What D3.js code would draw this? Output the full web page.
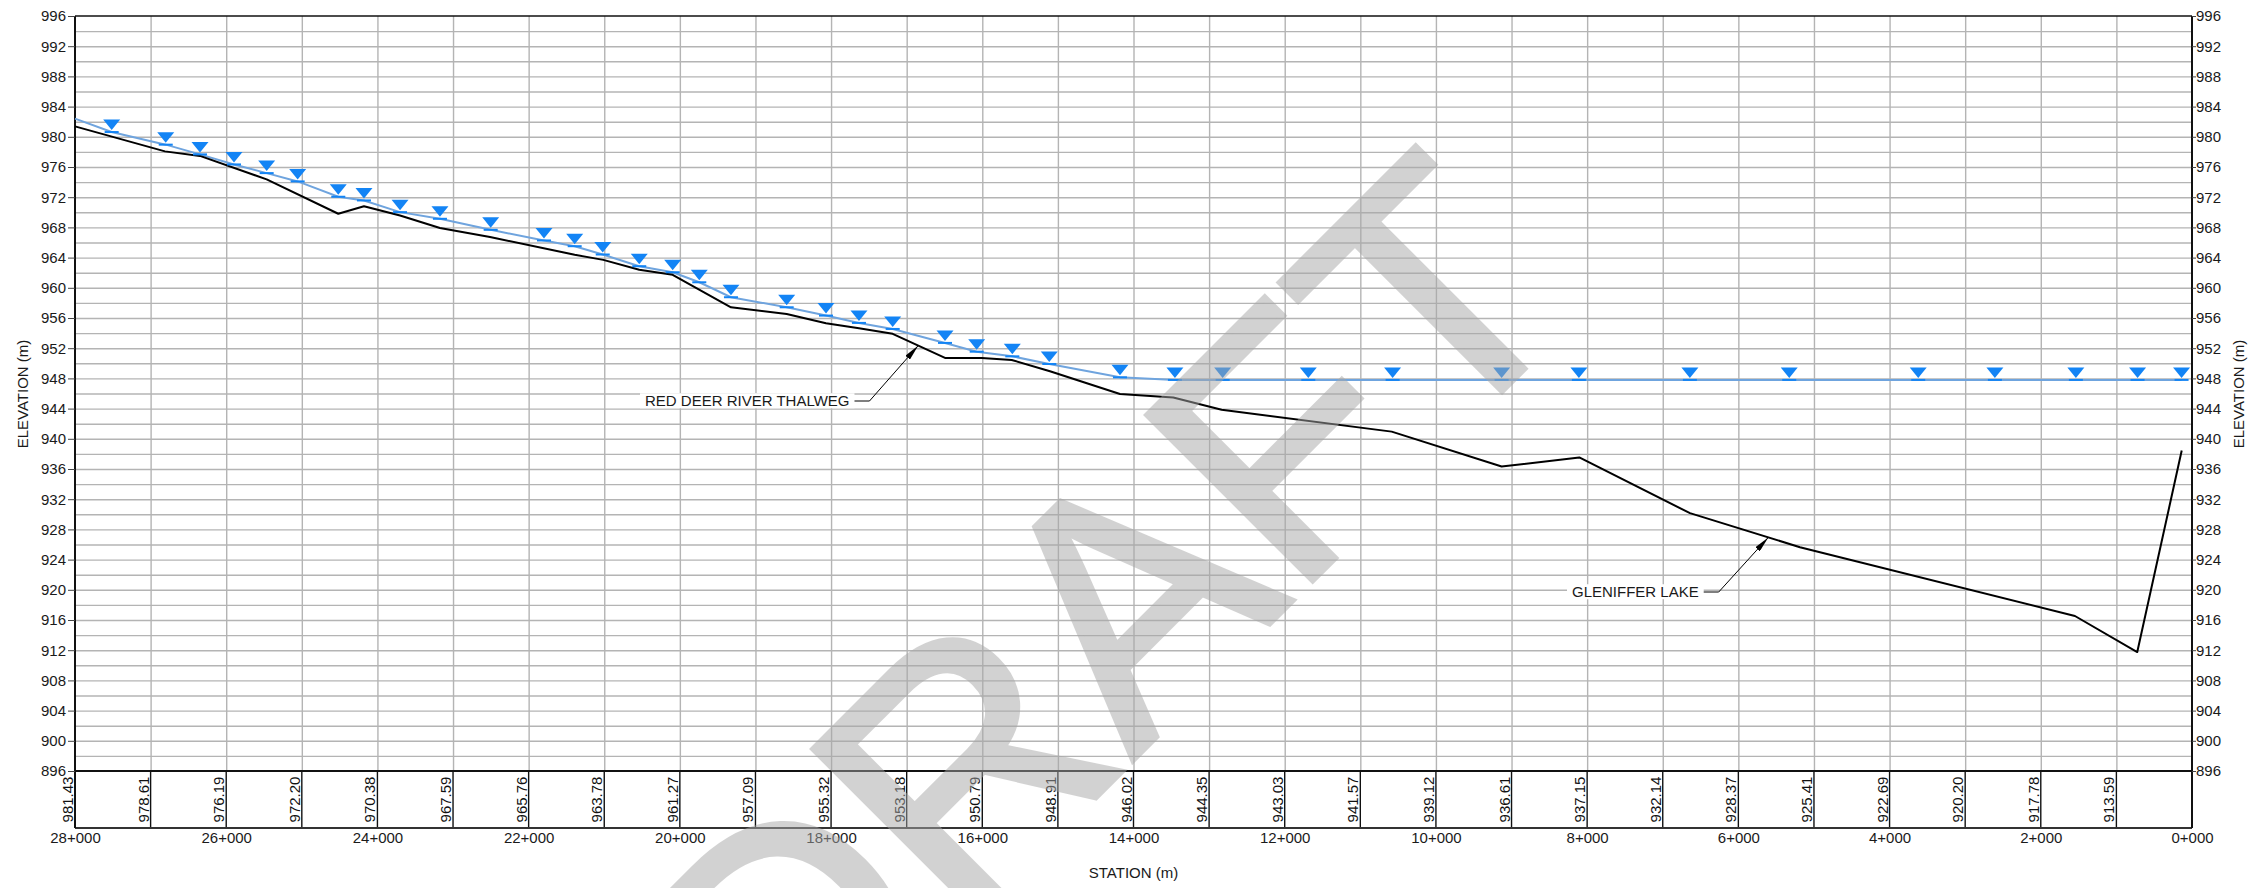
<!DOCTYPE html>
<html>
<head>
<meta charset="utf-8">
<style>
  body { margin: 0; background: #fff; }
  svg { display: block; font-family: "Liberation Sans", Arial, sans-serif; }
</style>
<script src="https://cdn.jsdelivr.net/npm/d3@7"></script>
</head>
<body>
<div id="chart"></div>
<script>
// Thalweg profile (station m, elevation m)
const thalwegStation = [28000, 26810, 26347, 25465, 24518, 24178, 23701, 23173, 22511, 21391,
  21013, 20537, 20095, 19324, 18587, 18067, 17631, 17185, 16493, 16008,
  15611, 15105, 14179, 13474, 12834, 10585, 9131, 8104, 6640, 5185,
  1548, 724, 136];
const thalwegElev = [981.38, 978.07, 977.47, 974.36, 969.81, 970.80, 969.58, 967.92, 966.73, 964.37,
  963.70, 962.40, 961.72, 957.42, 956.54, 955.30, 954.63, 953.90, 950.71, 950.71,
  950.44, 948.95, 945.93, 945.48, 943.85, 940.95, 936.33, 937.53, 930.15, 925.64,
  916.53, 911.76, 938.44];

// Water surface profile
const wsStation = [28000, 27515, 26800, 26347, 25897, 25465, 25055, 24518, 24178, 23701,
  23173, 22502, 21797, 21391, 21020, 20537, 20095, 19743, 19324, 18587,
  18067, 17631, 17185, 16493, 16074, 15603, 15114, 14179, 13452, 12821,
  11688, 10573, 9131, 8109, 6641, 5327, 3621, 2607, 1536, 720, 138];
const wsElev = [982.41, 980.63, 978.96, 977.67, 976.34, 975.19, 974.09, 972.06, 971.57, 970.02,
  969.14, 967.68, 966.27, 965.51, 964.41, 962.86, 962.06, 960.73, 958.75, 957.42,
  956.32, 955.35, 954.55, 952.70, 951.54, 950.92, 949.91, 948.14, 947.80, 947.80,
  947.80, 947.80, 947.80, 947.80, 947.80, 947.80, 947.80, 947.80, 947.80, 947.80, 947.80];

// Thalweg elevation table under the profile
const tableStation = [28000, 27000, 26000, 25000, 24000, 23000, 22000, 21000, 20000, 19000,
  18000, 17000, 16000, 15000, 14000, 13000, 12000, 11000, 10000, 9000,
  8000, 7000, 6000, 5000, 4000, 3000, 2000, 1000];
const tableElev = ["981.43", "978.61", "976.19", "972.20", "970.38", "967.59", "965.76", "963.78", "961.27", "957.09",
  "955.32", "953.18", "950.79", "948.91", "946.02", "944.35", "943.03", "941.57", "939.12", "936.61",
  "937.15", "932.14", "928.37", "925.41", "922.69", "920.20", "917.78", "913.59"];

const stationTicks = [28000, 26000, 24000, 22000, 20000, 18000, 16000, 14000, 12000, 10000, 8000, 6000, 4000, 2000, 0];
const elevTicks = [896, 900, 904, 908, 912, 916, 920, 924, 928, 932, 936, 940, 944, 948, 952, 956, 960, 964, 968, 972, 976, 980, 984, 988, 992, 996];

const callouts = ["RED DEER RIVER THALWEG", "GLENIFFER LAKE"];
const calloutStation = [16847, 5604];

function drawChart() {
  const width = 2253;
  const height = 888;
  const marginLeft = 75;
  const marginRight = 61;
  const marginTop = 16;
  const plotBottom = 771;
  const tableBottom = 828;
  const plotW = width - marginLeft - marginRight;
  const fontSize = 15;

  const x = d3.scaleLinear().domain([28000, 0]).range([marginLeft, width - marginRight]);
  const y = d3.scaleLinear().domain([896, 996]).range([plotBottom, marginTop]);
  const thalwegAt = d3.scaleLinear().domain(thalwegStation).range(thalwegElev);

  const svg = d3.select("#chart").append("svg")
    .attr("width", width)
    .attr("height", height);

  // horizontal grid every 2 m
  svg.append("g")
    .attr("transform", `translate(${marginLeft},0)`)
    .call(d3.axisLeft(y).tickValues(d3.range(898, 996, 2)).tickSize(-plotW).tickFormat(""))
    .call(g => g.select(".domain").remove())
    .call(g => g.selectAll("line").attr("stroke", "#b4b4b4").attr("stroke-width", 1.4));

  // vertical grid every 1000 m
  svg.append("g")
    .attr("transform", `translate(0,${plotBottom})`)
    .call(d3.axisBottom(x).tickValues(d3.range(1000, 28000, 1000)).tickSize(-(plotBottom - marginTop)).tickFormat(""))
    .call(g => g.select(".domain").remove())
    .call(g => g.selectAll("line").attr("stroke", "#b4b4b4").attr("stroke-width", 1.4));

  // table cells
  svg.append("g")
    .selectAll("line")
    .data(tableStation.slice(1))
    .join("line")
    .attr("x1", d => x(d)).attr("x2", d => x(d))
    .attr("y1", plotBottom).attr("y2", tableBottom)
    .attr("stroke", "#111").attr("stroke-width", 1.4);

  svg.append("g")
    .selectAll("text")
    .data(tableStation)
    .join("text")
    .attr("transform", d => `translate(${x(d) - 2},${(plotBottom + tableBottom) / 2}) rotate(-90)`)
    .attr("text-anchor", "middle")
    .attr("font-size", fontSize)
    .attr("fill", "#111")
    .text((d, i) => tableElev[i]);

  svg.append("line")
    .attr("x1", marginLeft).attr("x2", width - marginRight)
    .attr("y1", tableBottom).attr("y2", tableBottom)
    .attr("stroke", "#333").attr("stroke-width", 2);

  // frame
  svg.append("line")
    .attr("x1", marginLeft).attr("x2", width - marginRight)
    .attr("y1", marginTop).attr("y2", marginTop)
    .attr("stroke", "#111").attr("stroke-width", 1.6);
  svg.append("line")
    .attr("x1", marginLeft).attr("x2", width - marginRight)
    .attr("y1", plotBottom).attr("y2", plotBottom)
    .attr("stroke", "#111").attr("stroke-width", 2.2);

  // elevation axes
  svg.append("g")
    .attr("transform", `translate(${marginLeft},0)`)
    .call(d3.axisLeft(y).tickValues(elevTicks).tickSize(7).tickPadding(2))
    .call(g => g.select(".domain").attr("d", `M0,${marginTop}V${tableBottom}`).attr("stroke", "#111").attr("stroke-width", 2))
    .call(g => g.selectAll("line").attr("stroke", "#444"))
    .call(g => g.selectAll("text").attr("font-size", fontSize).attr("font-family", null).attr("fill", "#1a1a1a"));

  svg.append("g")
    .attr("transform", `translate(${width - marginRight},0)`)
    .call(d3.axisRight(y).tickValues(elevTicks).tickSize(4).tickPadding(0))
    .call(g => g.select(".domain").attr("d", `M0,${marginTop}V${tableBottom}`).attr("stroke", "#111").attr("stroke-width", 2))
    .call(g => g.selectAll("line").attr("stroke", "#444"))
    .call(g => g.selectAll("text").attr("font-size", fontSize).attr("font-family", null).attr("fill", "#1a1a1a"));

  // station axis
  const stationFormat = d => `${Math.floor(d / 1000)}+${String(d % 1000).padStart(3, "0")}`;
  svg.append("g")
    .attr("transform", `translate(0,${tableBottom})`)
    .call(d3.axisBottom(x).tickValues(stationTicks).tickSize(0).tickPadding(4).tickFormat(stationFormat))
    .call(g => g.select(".domain").remove())
    .call(g => g.selectAll("text").attr("font-size", fontSize).attr("font-family", null).attr("fill", "#1a1a1a"));

  // axis titles
  svg.append("text")
    .attr("x", (marginLeft + width - marginRight) / 2).attr("y", 877.5)
    .attr("text-anchor", "middle").attr("font-size", fontSize).attr("fill", "#1a1a1a")
    .text("STATION (m)");
  svg.append("text")
    .attr("transform", `translate(28,394) rotate(-90)`)
    .attr("text-anchor", "middle").attr("font-size", fontSize).attr("fill", "#1a1a1a")
    .text("ELEVATION (m)");
  svg.append("text")
    .attr("transform", `translate(2244,394) rotate(-90)`)
    .attr("text-anchor", "middle").attr("font-size", fontSize).attr("fill", "#1a1a1a")
    .text("ELEVATION (m)");

  // profiles
  const line = d3.line().x(d => x(d[0])).y(d => y(d[1]));

  svg.append("path")
    .datum(d3.zip(wsStation, wsElev))
    .attr("fill", "none")
    .attr("stroke", "#6fa4de")
    .attr("stroke-width", 2)
    .attr("d", line);

  svg.append("path")
    .datum(d3.zip(thalwegStation, thalwegElev))
    .attr("fill", "none")
    .attr("stroke", "#000")
    .attr("stroke-width", 2)
    .attr("stroke-linejoin", "round")
    .attr("d", line);

  // water surface markers
  const marker = svg.append("g")
    .selectAll("g")
    .data(d3.zip(wsStation, wsElev).slice(1))
    .join("g")
    .attr("transform", d => `translate(${x(d[0])},${y(d[1])})`)
    .attr("fill", "#1384f5");
  marker.append("path").attr("d", "M-8.5,-12.5H8.5L0,-2Z");
  marker.append("rect").attr("x", -7).attr("y", -1).attr("width", 14).attr("height", 2);

  // callouts
  svg.append("defs").append("marker")
    .attr("id", "arrow")
    .attr("viewBox", "0 0 16 6")
    .attr("refX", 16).attr("refY", 3)
    .attr("markerWidth", 16).attr("markerHeight", 6)
    .attr("markerUnits", "userSpaceOnUse")
    .attr("orient", "auto")
    .append("path").attr("d", "M0,0L16,3L0,6Z").attr("fill", "#000");

  const calloutText = [[645, 401], [1572, 592]];
  callouts.forEach((label, i) => {
    const g = svg.append("g");
    const t = g.append("text")
      .attr("x", calloutText[i][0]).attr("y", calloutText[i][1])
      .attr("dy", "0.35em")
      .attr("font-size", fontSize).attr("fill", "#1a1a1a")
      .text(label);
    const bb = t.node().getBBox();
    g.insert("rect", "text")
      .attr("x", bb.x - 5).attr("y", bb.y + 1)
      .attr("width", bb.width + 10).attr("height", bb.height - 2)
      .attr("fill", "#fff");
    const tipX = x(calloutStation[i]);
    const tipY = y(thalwegAt(calloutStation[i]));
    const x0 = bb.x + bb.width + 5;
    g.append("path")
      .attr("d", `M${x0},${calloutText[i][1]}H${x0 + 15}L${tipX},${tipY}`)
      .attr("fill", "none").attr("stroke", "#000").attr("stroke-width", 1)
      .attr("marker-end", "url(#arrow)");
  });

  // watermark
  svg.append("text")
    .attr("transform", "translate(1186,707) rotate(-45)")
    .attr("text-anchor", "middle")
    .attr("font-size", 340)
    .attr("fill", "rgb(167,167,167)")
    .attr("stroke", "rgb(167,167,167)")
    .attr("stroke-width", 6)
    .attr("stroke-linejoin", "miter")
    .attr("opacity", 0.5)
    .text("DRAFT");
}

if (document.readyState !== "loading") {
  drawChart();
} else { document.addEventListener("DOMContentLoaded", () => drawChart()); }
</script>
</body>
</html>
